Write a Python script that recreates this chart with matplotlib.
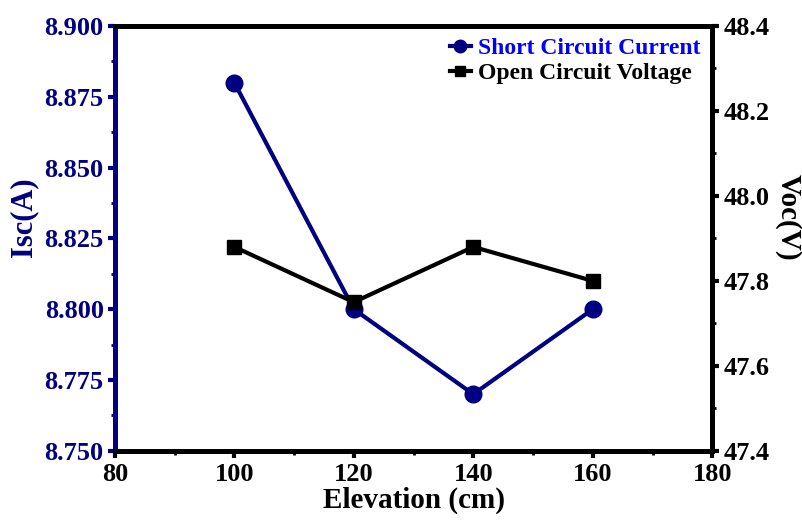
from matplotlib import pyplot as plt
from matplotlib.ticker import MultipleLocator

elevation = [100, 120, 140, 160]
isc = [8.880, 8.800, 8.770, 8.800]
voc = [47.88, 47.75, 47.88, 47.80]

navy = '#000080'

plt.rcParams['font.family'] = 'Liberation Serif'
plt.rcParams['font.weight'] = 'bold'
plt.rcParams['axes.labelweight'] = 'bold'

fig = plt.figure(figsize=(8.03, 5.2), dpi=100)
ax = fig.add_axes([0.143, 0.133, 0.744, 0.817])
ax2 = ax.twinx()

l1, = ax.plot(elevation, isc, color=navy, lw=3, marker='o', ms=12,
              label='Short Circuit Current')
l2, = ax2.plot(elevation, voc, color='black', lw=3, marker='s', ms=10,
               label='Open Circuit Voltage')

ax.set_xlim(80, 180)
ax.set_ylim(8.750, 8.900)
ax2.set_ylim(47.4, 48.4)

ax.xaxis.set_major_locator(MultipleLocator(20))
ax.xaxis.set_minor_locator(MultipleLocator(10))
ax.yaxis.set_major_locator(MultipleLocator(0.025))
ax.yaxis.set_minor_locator(MultipleLocator(0.0125))
ax2.yaxis.set_major_locator(MultipleLocator(0.2))
ax2.yaxis.set_minor_locator(MultipleLocator(0.1))
ax.yaxis.set_major_formatter(plt.FormatStrFormatter('%.3f'))
ax2.yaxis.set_major_formatter(plt.FormatStrFormatter('%.1f'))

for a in (ax, ax2):
    for s in a.spines.values():
        s.set_linewidth(3.5)
        s.set_color('black')
ax.spines['left'].set_color(navy)
ax2.spines['left'].set_color(navy)

ax.tick_params(axis='x', which='major', direction='out', length=5, width=3, labelsize=19, pad=4)
ax.tick_params(axis='x', which='minor', direction='out', length=3, width=2)
ax.tick_params(axis='y', which='major', direction='out', length=5, width=3, labelsize=19,
               colors=navy, pad=3)
ax.tick_params(axis='y', which='minor', direction='out', length=3, width=2, colors=navy)
ax2.tick_params(axis='y', which='major', direction='out', length=5, width=3, labelsize=19, pad=3)
ax2.tick_params(axis='y', which='minor', direction='out', length=3, width=2)

ax.set_xlabel('Elevation (cm)', fontsize=21, labelpad=0)
ax.set_ylabel('Isc(A)', fontsize=22, color=navy)
ax2.set_ylabel('Voc(V)', fontsize=21, rotation=270)
ax.yaxis.set_label_coords(-0.128, 0.55)
ax2.yaxis.set_label_coords(1.15, 0.55)

leg = ax2.legend(handles=[l1, l2], loc='upper right', frameon=False, fontsize=17,
                 handlelength=0.9, handletextpad=0.3, borderaxespad=0.1,
                 labelspacing=0.15, markerscale=0.75)
leg.get_texts()[0].set_color('blue')

fig.savefig('out.png', dpi=100)
